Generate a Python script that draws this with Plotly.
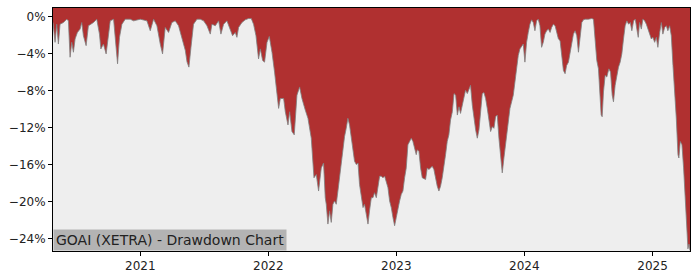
import plotly.graph_objects as go
import pandas as pd

# ---- data ----
t_year = [
    2020.320, 2020.336, 2020.349, 2020.362, 2020.375, 2020.401, 2020.427, 2020.440, 2020.453, 2020.466,
    2020.479, 2020.492, 2020.510, 2020.531, 2020.544, 2020.557, 2020.578, 2020.596, 2020.615, 2020.635,
    2020.661, 2020.682, 2020.693, 2020.713, 2020.734, 2020.752, 2020.766, 2020.792, 2020.810, 2020.823,
    2020.838, 2020.857, 2020.883, 2020.922, 2020.948, 2021.000, 2021.052, 2021.078, 2021.104, 2021.130,
    2021.156, 2021.174, 2021.195, 2021.221, 2021.247, 2021.273, 2021.299, 2021.326, 2021.352, 2021.365,
    2021.380, 2021.396, 2021.416, 2021.443, 2021.469, 2021.495, 2021.521, 2021.547, 2021.560, 2021.586,
    2021.612, 2021.630, 2021.651, 2021.677, 2021.703, 2021.721, 2021.742,
    2021.755, 2021.768, 2021.794, 2021.820, 2021.846, 2021.867, 2021.885, 2021.904, 2021.924, 2021.938,
    2021.956, 2021.971, 2021.990, 2022.008, 2022.029, 2022.049, 2022.068, 2022.081, 2022.094, 2022.120,
    2022.133, 2022.154, 2022.167, 2022.185, 2022.203, 2022.224, 2022.245, 2022.263, 2022.289, 2022.310,
    2022.336, 2022.357, 2022.375, 2022.393, 2022.414, 2022.432, 2022.445,
    2022.453, 2022.466, 2022.479, 2022.492, 2022.505, 2022.518, 2022.531, 2022.544, 2022.557, 2022.570,
    2022.583, 2022.596, 2022.609, 2022.622, 2022.635, 2022.648, 2022.661, 2022.674, 2022.688, 2022.701,
    2022.713, 2022.727, 2022.740, 2022.752, 2022.766, 2022.779, 2022.791, 2022.805, 2022.818, 2022.830,
    2022.844, 2022.857, 2022.870, 2022.883, 2022.896, 2022.909, 2022.922, 2022.935, 2022.948, 2022.961,
    2022.974, 2022.987, 2023.000, 2023.013, 2023.026, 2023.039, 2023.052, 2023.065, 2023.078, 2023.091,
    2023.104, 2023.117, 2023.130, 2023.143, 2023.156,
    2023.164, 2023.177, 2023.190, 2023.203, 2023.229, 2023.242, 2023.255, 2023.268, 2023.281, 2023.294,
    2023.307, 2023.320, 2023.333, 2023.346, 2023.359, 2023.372, 2023.385, 2023.398, 2023.411, 2023.424,
    2023.438, 2023.451, 2023.464, 2023.477, 2023.490, 2023.502, 2023.516, 2023.529, 2023.541, 2023.555,
    2023.568, 2023.580, 2023.594, 2023.607, 2023.620, 2023.633, 2023.646, 2023.659, 2023.672, 2023.685,
    2023.698, 2023.711, 2023.724, 2023.737, 2023.750, 2023.763, 2023.776, 2023.789, 2023.802, 2023.815,
    2023.828, 2023.841, 2023.854, 2023.867,
    2023.875, 2023.888, 2023.901, 2023.914, 2023.927, 2023.940, 2023.953, 2023.966, 2023.979, 2023.992,
    2024.005, 2024.018, 2024.031, 2024.044, 2024.057, 2024.070, 2024.083, 2024.096, 2024.109, 2024.122,
    2024.135, 2024.148, 2024.161, 2024.174, 2024.188, 2024.201, 2024.213, 2024.227, 2024.240, 2024.252,
    2024.266, 2024.279, 2024.291, 2024.305, 2024.318, 2024.330, 2024.344, 2024.357, 2024.370, 2024.383,
    2024.396, 2024.409, 2024.422, 2024.435, 2024.448, 2024.461, 2024.474, 2024.500, 2024.526, 2024.539,
    2024.552, 2024.565, 2024.578,
    2024.586, 2024.599, 2024.607, 2024.617, 2024.630, 2024.643, 2024.659, 2024.672, 2024.685, 2024.695,
    2024.708, 2024.721, 2024.734, 2024.747, 2024.760, 2024.773, 2024.786, 2024.799, 2024.813, 2024.826,
    2024.838, 2024.852, 2024.865, 2024.877, 2024.888, 2024.898, 2024.912, 2024.924, 2024.938, 2024.951,
    2024.963, 2024.977, 2024.990, 2025.002, 2025.016, 2025.029, 2025.041, 2025.055, 2025.068, 2025.080,
    2025.094, 2025.107, 2025.119, 2025.133, 2025.146, 2025.159, 2025.172, 2025.185, 2025.198, 2025.205,
    2025.216, 2025.229, 2025.242, 2025.255, 2025.268, 2025.276, 2025.284, 2025.292,
]

drawdown_pct = [
    -0.60, -2.75, -0.79, -2.93, -0.79, -0.61, -0.25, -0.43, -4.36, -2.75,
    -3.82, -2.39, -1.68, -1.32, -0.61, -2.04, -3.11, -0.96, -0.79, -0.61,
    -0.25, -1.86, -3.46, -2.93, -4.00, -1.86, -0.43, -0.25, -2.93, -5.07,
    -2.21, -0.79, -0.25, -0.25, -0.43, -0.25, -0.43, -1.50, -0.25, -0.96,
    -2.93, -4.00, -1.14, -1.68, -0.61, -0.43, -0.96, -2.21, -3.64, -4.86,
    -5.43, -3.29, -0.79, -0.25, -0.25, -0.43, -0.96, -1.86, -0.79, -0.96,
    -0.43, -1.86, -0.79, -0.43, -1.32, -2.04, -1.68,
    -2.21, -1.14, -0.61, -0.32, -0.18, -0.18, -0.79, -2.04, -4.54, -3.46,
    -4.71, -4.89, -2.75, -2.11, -3.82, -5.96, -8.46, -9.89, -8.82, -8.82,
    -10.25, -11.68, -10.25, -12.39, -12.75, -8.46, -7.57, -8.82, -10.07, -10.96,
    -13.11, -17.39, -17.04, -18.82, -16.32, -15.79, -19.54,
    -20.25, -22.39, -20.96, -22.21, -20.25, -19.89, -20.25, -18.82, -17.21, -15.61,
    -13.82, -12.93, -12.04, -10.96, -11.68, -13.11, -14.54, -15.61, -15.96, -15.79,
    -18.11, -19.54, -20.61, -20.25, -21.32, -22.39, -20.96, -19.54, -19.54, -19.00,
    -19.54, -18.11, -17.21, -17.21, -17.39, -17.21, -17.75, -18.46, -19.89, -20.61,
    -21.68, -22.57, -21.68, -20.61, -19.89, -19.18, -18.82, -17.39, -16.32, -13.82,
    -13.46, -13.11, -13.46, -14.18, -14.89,
    -14.36, -14.54, -16.32, -17.39, -17.57, -16.32, -16.50, -16.32, -16.14, -16.50,
    -17.57, -18.29, -18.82, -18.29, -17.39, -16.32, -14.89, -13.46, -12.75, -11.14,
    -10.25, -8.29, -8.46, -10.61, -9.71, -10.43, -9.54, -8.46, -7.93, -8.29,
    -7.75, -7.39, -9.54, -10.96, -12.21, -13.11, -12.21, -10.25, -8.29, -8.18,
    -8.82, -9.89, -10.96, -12.39, -11.86, -12.04, -10.79, -10.61, -13.11, -14.89,
    -16.86, -15.25, -13.82, -12.57,
    -11.32, -9.89, -9.18, -8.46, -7.04, -5.61, -4.18, -3.46, -3.11, -2.93,
    -4.89, -2.75, -1.68, -0.79, -0.32, -0.61, -1.50, -0.43, -0.25, -0.96,
    -3.29, -2.75, -1.86, -1.50, -1.32, -1.68, -1.14, -0.79, -0.96, -1.68,
    -2.39, -2.57, -4.18, -5.79, -6.14, -5.25, -4.89, -4.00, -3.11, -1.86,
    -1.50, -2.04, -3.82, -2.21, -0.61, -0.32, -0.25, -0.25, -0.18, -0.25,
    -2.75, -4.71, -5.61,
    -8.11, -10.61, -10.79, -8.11, -6.32, -6.50, -5.61, -5.96, -8.46, -9.18,
    -7.39, -6.32, -5.43, -4.89, -4.00, -2.39, -0.96, -0.43, -0.79, -0.61,
    -1.50, -0.43, -0.25, -1.32, -2.21, -0.61, -1.32, -0.25, -0.43, -0.79,
    -1.32, -2.04, -2.39, -2.21, -2.75, -2.21, -3.29, -1.68, -0.61, -1.86,
    -1.14, -0.96, -1.50, -0.96, -2.04, -5.25, -7.75, -10.96, -14.89, -15.25,
    -13.46, -13.82, -16.32, -20.25, -23.82, -25.07, -24.54, -25.25,
]

y_tick_values = [0, -4, -8, -12, -16, -20, -24]
y_tick_labels = ["0%", "\u22124%", "\u22128%", "\u221212%", "\u221216%", "\u221220%", "\u221224%"]
x_tick_labels = ["2021", "2022", "2023", "2024", "2025"]
title_text = "GOAI (XETRA) - Drawdown Chart"


def to_date(y):
    yr = int(y)
    start = pd.Timestamp(year=yr, month=1, day=1)
    end = pd.Timestamp(year=yr + 1, month=1, day=1)
    return start + (end - start) * (y - yr)


dates = [to_date(v) for v in t_year]
x_ticks = [pd.Timestamp(year=int(s), month=1, day=1) for s in x_tick_labels]

y_min = -25.3
y_max = 0.96

fig = go.Figure()
fig.add_trace(go.Scatter(
    x=[dates[0], dates[-1]], y=[3, 3], mode="lines",
    line=dict(width=0, color="rgba(0,0,0,0)"), hoverinfo="skip", showlegend=False,
))
fig.add_trace(go.Scatter(
    x=dates, y=drawdown_pct, mode="lines", fill="tonexty",
    fillcolor="#b03030", line=dict(color="rgba(128,128,128,0.8)", width=1),
    showlegend=False,
))

fig.update_layout(
    width=700, height=280, autosize=False,
    margin=dict(l=53, r=10, t=7, b=28),
    paper_bgcolor="white", plot_bgcolor="#eeeeee",
    font=dict(family="DejaVu Sans", size=12, color="#222222"),
    showlegend=False,
)
fig.update_xaxes(
    range=[dates[0], dates[-1]], tickvals=x_ticks, ticktext=x_tick_labels,
    showgrid=False, zeroline=False, showline=True, linecolor="black", linewidth=1,
    mirror=True, ticks="outside", ticklen=4, tickcolor="black",
    tickfont=dict(family="DejaVu Sans", size=12, color="#222222"),
)
fig.update_yaxes(
    range=[y_min, y_max], tickvals=y_tick_values, ticktext=y_tick_labels,
    showgrid=False, zeroline=False, showline=True, linecolor="black", linewidth=1,
    mirror=True, ticks="outside", ticklen=4, tickcolor="black",
    tickfont=dict(family="DejaVu Sans", size=12, color="#222222"),
)
fig.add_annotation(
    text=title_text, xref="paper", yref="paper", x=0, y=0,
    xanchor="left", yanchor="bottom", showarrow=False,
    bgcolor="#b3b3b3", borderpad=2,
    font=dict(family="DejaVu Sans", size=14, color="#222222"),
)

fig.write_html("out.html")
